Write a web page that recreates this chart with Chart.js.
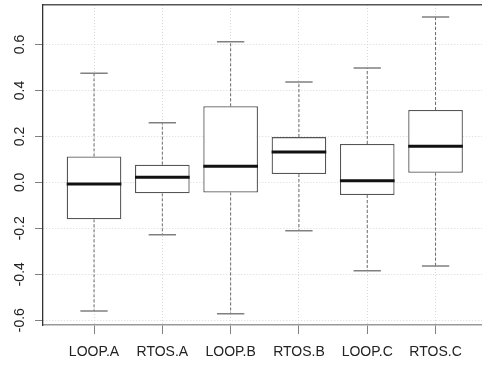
<!DOCTYPE html>
<html>
<head>
<meta charset="utf-8">
<script src="https://cdn.jsdelivr.net/npm/chart.js@4"></script>
<style>
  html, body { margin: 0; padding: 0; background: #fff; overflow: hidden; }
  #wrap { width: 482px; height: 365px; position: relative; }
</style>
</head>
<body>
<div id="wrap"><canvas id="box-canvas"></canvas></div>
<script>
// box plot values
const categories = ['LOOP.A', 'RTOS.A', 'LOOP.B', 'RTOS.B', 'LOOP.C', 'RTOS.C'];
const lowerWhisker = [-0.560, -0.228, -0.572, -0.211, -0.385, -0.364];
const lowerQuartile = [-0.161, -0.048, -0.044, 0.036, -0.055, 0.042];
const medians = [-0.007, 0.022, 0.070, 0.132, 0.007, 0.157];
const upperQuartile = [0.113, 0.077, 0.331, 0.197, 0.167, 0.315];
const upperWhisker = [0.475, 0.259, 0.612, 0.437, 0.498, 0.720];
const yTicks = [-0.6, -0.4, -0.2, 0.0, 0.2, 0.4, 0.6];

// segments split by null points so one line dataset holds all boxes
function segments(fromArr, toArr, halfWidth) {
  const pts = [];
  categories.forEach((c, i) => {
    const x = i + 1;
    if (halfWidth) {
      pts.push({ x: x - halfWidth, y: fromArr[i] }, { x: x + halfWidth, y: fromArr[i] });
    } else {
      pts.push({ x: x, y: fromArr[i] }, { x: x, y: toArr[i] });
    }
    pts.push({ x: x + 0.01, y: null });
  });
  return pts;
}

const boxes = categories.map((c, i) => ({ x: i + 1, y: [lowerQuartile[i], upperQuartile[i]] }));
const whiskers = segments(upperQuartile, upperWhisker).concat(segments(lowerQuartile, lowerWhisker));
const caps = segments(upperWhisker, null, 0.2).concat(segments(lowerWhisker, null, 0.2));
const medianLines = segments(medians, null, 0.4);

const font = { family: '"Liberation Sans", Arial, sans-serif', size: 14 };
const lineBase = { type: 'line', pointRadius: 0, spanGaps: false, tension: 0, fill: false };

const ctx = document.getElementById('box-canvas').getContext('2d');
new Chart(ctx, {
  type: 'bar',
  data: {
    datasets: [
      {
        data: boxes,
        backgroundColor: '#ffffff',
        borderColor: '#555555',
        borderWidth: 1.3,
        borderSkipped: false,
        barPercentage: 1,
        categoryPercentage: 0.8,
        order: 3
      },
      Object.assign({}, lineBase, { data: whiskers, borderColor: '#6a6a6a', borderWidth: 1, borderDash: [3, 2], order: 2 }),
      Object.assign({}, lineBase, { data: caps, borderColor: '#808080', borderWidth: 1.5, order: 1 }),
      Object.assign({}, lineBase, { data: medianLines, borderColor: '#111111', borderWidth: 3, order: 0 })
    ]
  },
  options: {
    responsive: true,
    maintainAspectRatio: false,
    animation: false,
    devicePixelRatio: 1,
    layout: { padding: 0 },
    plugins: { legend: { display: false }, tooltip: { enabled: false } },
    scales: {
      x: {
        type: 'linear',
        position: 'bottom',
        offset: false,
        min: 0.253,
        max: 6.68,
        afterBuildTicks: (scale) => { scale.ticks = categories.map((c, i) => ({ value: i + 1 })); },
        afterFit: (scale) => { scale.height = 40; },
        ticks: {
          callback: (v, i) => categories[i],
          font: font,
          color: '#222',
          padding: 10,
          maxRotation: 0,
          autoSkip: false
        },
        grid: { offset: false, color: '#d8d8d8', tickColor: '#808080', tickLength: 9, tickWidth: 1 },
        border: { display: true, color: '#999999', width: 1.5, dash: [1, 2] }
      },
      x2: {
        type: 'linear',
        position: 'top',
        offset: false,
        min: 0.253,
        max: 6.68,
        afterFit: (scale) => { scale.height = 5; },
        ticks: { display: false },
        grid: { display: false },
        border: { display: true, color: '#555555', width: 1.5 }
      },
      y: {
        type: 'linear',
        min: -0.621,
        max: 0.772,
        afterBuildTicks: (scale) => { scale.ticks = yTicks.map(v => ({ value: v })); },
        afterFit: (scale) => {
          scale.width = 43;
          // rotated labels would otherwise push the plot area down
          scale.paddingTop = 0;
          scale.paddingBottom = 0;
        },
        ticks: {
          callback: (v) => v.toFixed(1),
          font: font,
          color: '#222',
          minRotation: 90,
          maxRotation: 90,
          crossAlign: 'center',
          padding: 3
        },
        grid: { color: '#d8d8d8', tickColor: '#808080', tickLength: 8, tickWidth: 1 },
        border: { display: true, color: '#333333', width: 1.3, dash: [1, 2] }
      }
    }
  }
});
</script>
</body>
</html>
